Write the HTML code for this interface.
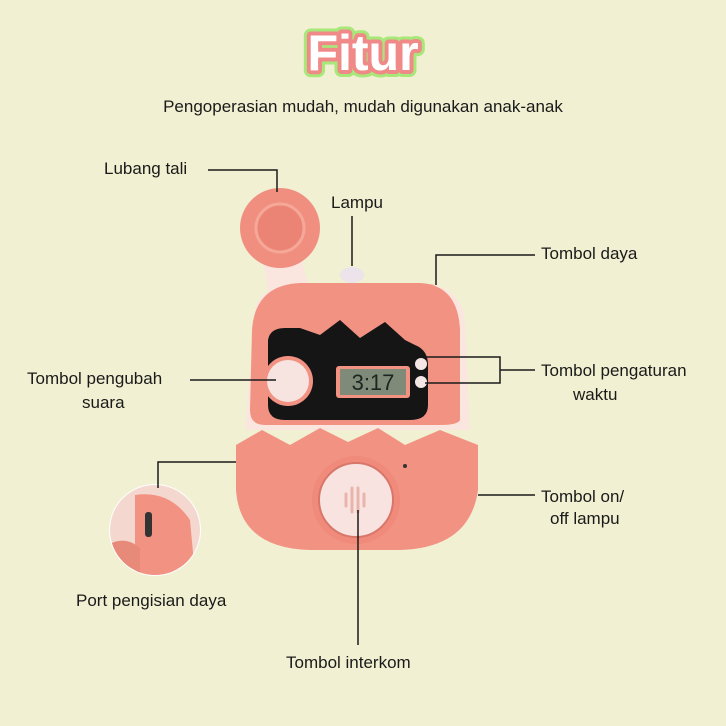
<!DOCTYPE html>
<html><head><meta charset="utf-8"><style>
body{margin:0;background:#f1f0d2;}
svg{display:block}
text{font-family:"Liberation Sans","DejaVu Sans",sans-serif;fill:#1a1a1a}
</style></head><body>
<svg width="726" height="726" viewBox="0 0 726 726">
<defs><clipPath id="ic"><circle cx="155" cy="530" r="45"/></clipPath></defs>
<rect width="726" height="726" fill="#f1f0d2"/>
<text x="363" y="70" text-anchor="middle" font-size="50" font-weight="900" style="fill:#fff" stroke="#a8e87a" stroke-width="14" stroke-linejoin="round" paint-order="stroke">Fitur</text>
<text x="363" y="70" text-anchor="middle" font-size="50" font-weight="900" style="fill:#fff" stroke="#f08a88" stroke-width="8" stroke-linejoin="round" paint-order="stroke">Fitur</text>
<text x="363" y="70" text-anchor="middle" font-size="50" font-weight="900" style="fill:#fff">Fitur</text>
<text x="363" y="112" text-anchor="middle" font-size="17">Pengoperasian mudah, mudah digunakan anak-anak</text>

<!-- device -->
<path d="M262 255 L300 252 L312 300 L272 312 Z" fill="#fbe6df"/>
<circle cx="280" cy="228" r="40" fill="#f08f80"/>
<circle cx="280" cy="228" r="24" fill="#ec8475" stroke="#f6a898" stroke-width="3"/>
<ellipse cx="352" cy="275" rx="12" ry="8" fill="#ece4ea"/>
<ellipse cx="430" cy="293" rx="10" ry="9" fill="#f08f80"/>
<path d="M255 310 Q260 285 300 283 L420 283 Q460 285 465 320 L470 430 L245 430 Z" fill="#fbe6df"/>
<path d="M252 330 Q255 285 300 283 L420 283 Q458 285 460 330 L460 420 Q458 425 440 425 L265 425 Q250 425 250 410 Z" fill="#f29282"/>
<path d="M268 340 Q270 328 285 328 L300 328 L320 335 L340 320 L360 338 L385 322 L405 340 L415 345 Q428 350 428 365 L428 405 Q428 420 410 420 L285 420 Q268 420 268 405 Z" fill="#151515"/>
<rect x="336" y="366" width="74" height="32" rx="3" fill="#f29282"/>
<rect x="340" y="369" width="66" height="26" fill="#7f8a78"/>
<text x="373" y="390" text-anchor="middle" font-size="22" font-family="Liberation Mono,monospace" style="fill:#1e2420">3:17</text>
<circle cx="421" cy="364" r="6" fill="#f5e6e6"/>
<circle cx="421" cy="382" r="6" fill="#f5e6e6"/>
<circle cx="288" cy="381" r="25" fill="#f29282"/>
<circle cx="288" cy="381" r="21" fill="#f7e4e0"/>
<path d="M236 445 L262 430 L290 445 L320 428 L348 442 L378 428 L405 445 L440 430 L478 445 L478 490 Q470 548 400 550 L310 550 Q240 548 236 490 Z" fill="#f29282"/>
<circle cx="356" cy="500" r="44" fill="#f08a7a"/>
<circle cx="356" cy="500" r="37" fill="#f8e3e0" stroke="#d8766a" stroke-width="2"/>
<g stroke="#e8b4ac" stroke-width="3" stroke-linecap="round"><line x1="346" y1="494" x2="346" y2="506"/><line x1="352" y1="488" x2="352" y2="512"/><line x1="358" y1="488" x2="358" y2="512"/><line x1="364" y1="494" x2="364" y2="506"/></g>
<circle cx="405" cy="466" r="2" fill="#333"/>
<!-- inset -->
<circle cx="155" cy="530" r="46" fill="#fff"/>
<g clip-path="url(#ic)">
<rect x="100" y="480" width="110" height="110" fill="#f4d8d0"/>
<path d="M135 495 Q170 490 190 520 L195 575 L135 575 Z" fill="#f29282"/>
<path d="M108 545 Q125 535 140 548 L140 580 L108 580 Z" fill="#e88a7a"/>
<rect x="145" y="512" width="7" height="25" rx="3" fill="#333"/>
</g>

<!-- lines -->
<g stroke="#1a1a1a" stroke-width="1.5" fill="none">
<polyline points="208,170 277,170 277,192"/>
<line x1="352" y1="216" x2="352" y2="266"/>
<polyline points="535,255 436,255 436,285"/>
<polyline points="425,357 500,357 500,383 425,383"/>
<line x1="500" y1="370" x2="535" y2="370"/>
<line x1="190" y1="380" x2="276" y2="380"/>
<line x1="478" y1="495" x2="535" y2="495"/>
<polyline points="158,488 158,462 236,462"/>
<line x1="358" y1="510" x2="358" y2="645"/>
</g>
<g font-size="17">
<text x="104" y="174">Lubang tali</text>
<text x="331" y="208">Lampu</text>
<text x="541" y="259">Tombol daya</text>
<text x="541" y="376">Tombol pengaturan</text>
<text x="573" y="400">waktu</text>
<text x="27" y="384">Tombol pengubah</text>
<text x="82" y="408">suara</text>
<text x="541" y="502">Tombol on/</text>
<text x="550" y="524">off lampu</text>
<text x="76" y="606">Port pengisian daya</text>
<text x="286" y="668">Tombol interkom</text>
</g>
</svg>
</body></html>
